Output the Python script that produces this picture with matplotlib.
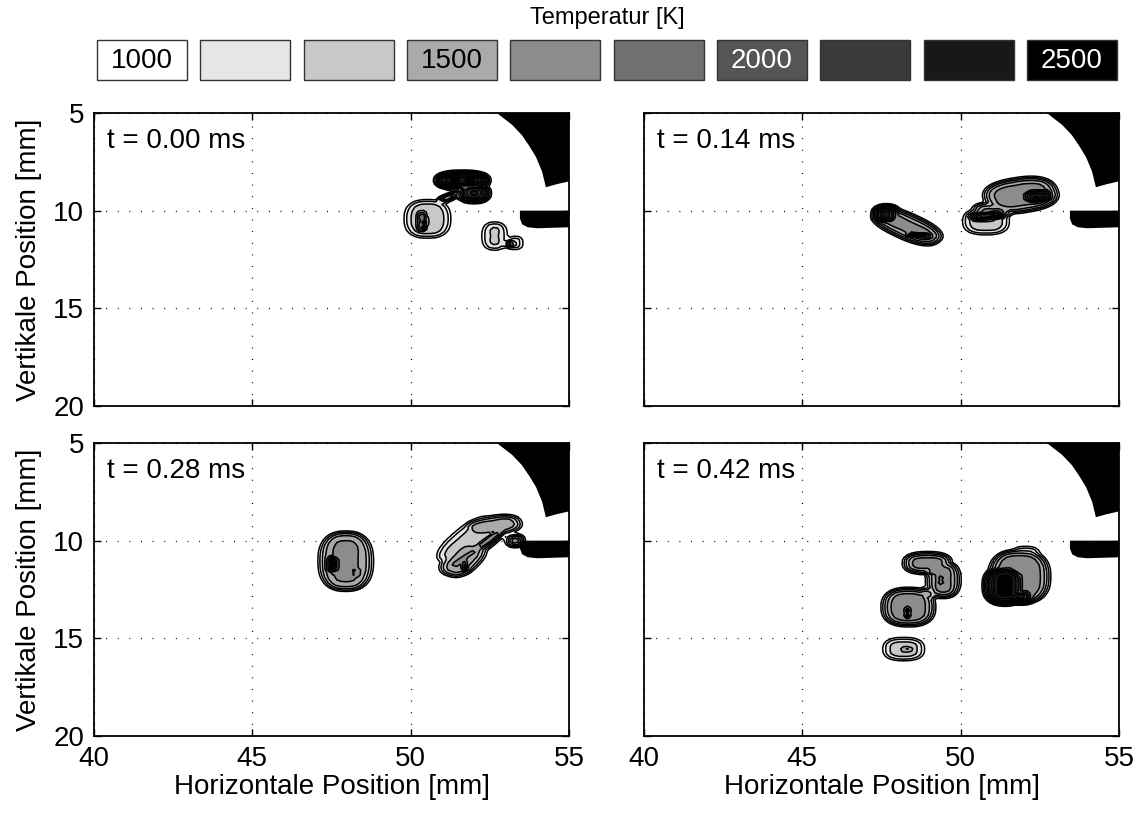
import numpy as np
import matplotlib
matplotlib.use("Agg")
import matplotlib.pyplot as plt
from matplotlib.patches import Rectangle

plt.rcParams['font.family'] = ['Liberation Sans', 'DejaVu Sans']

# Temperature levels (K) and their grey fill colours
LEVELS = [1000, 1167, 1333, 1500, 1667, 1833, 2000, 2167, 2333, 2500]
GRAYS = ['#ffffff', '#e6e6e6', '#c8c8c8', '#aaaaaa', '#8c8c8c',
         '#707070', '#555555', '#3a3a3a', '#181818', '#000000']
LEGEND_LABELS = ['1000', '', '', '1500', '', '', '2000', '', '', '2500']
LABEL_COLORS = ['k', 'k', 'k', 'k', 'k', 'k', 'w', 'w', 'w', 'w']

TIMES = ['t = 0.00 ms', 't = 0.14 ms', 't = 0.28 ms', 't = 0.42 ms']

# Hot kernels: (x [mm], y [mm], half-length, half-width, angle [deg], peak T [K])
KERNELS_000 = [
    (51.63, 8.45, 0.80, 0.42, 0, 2600),
    (52.00, 9.10, 0.45, 0.45, 0, 2500),
    (51.15, 9.35, 0.32, 0.15, -35, 2100),
    (50.53, 10.42, 0.80, 1.05, 0, 1450),
    (50.35, 10.55, 0.28, 0.62, 0, 2100),
    (50.42, 10.72, 0.12, 0.35, 0, 2600),
    (50.72, 10.92, 0.18, 0.30, 0, 1750),
    (52.65, 11.30, 0.48, 0.80, 0, 1400),
    (53.30, 11.65, 0.32, 0.42, 0, 1400),
    (52.65, 10.95, 0.10, 0.24, 0, 1750),
    (53.15, 11.70, 0.14, 0.16, 0, 2400),
]
KERNELS_014 = [
    (48.30, 10.80, 1.30, 0.62, 38, 1750),
    (47.65, 10.20, 0.38, 0.45, 0, 2600),
    (48.70, 11.25, 0.48, 0.20, 10, 2600),
    (50.80, 10.55, 0.80, 0.75, 0, 1450),
    (51.90, 9.20, 1.20, 0.90, -15, 1750),
    (51.00, 10.00, 0.65, 0.45, 0, 1750),
    (52.40, 9.25, 0.50, 0.40, -10, 2600),
    (50.85, 10.25, 0.60, 0.28, -10, 2500),
]
KERNELS_028 = [
    (52.60, 9.25, 0.95, 0.55, -15, 1650),
    (51.65, 10.95, 1.00, 0.60, -60, 1650),
    (51.85, 10.00, 1.50, 0.70, -55, 1400),
    (52.05, 10.45, 1.45, 0.30, -50, 1800),
    (51.72, 11.30, 0.12, 0.30, 0, 2600),
    (53.30, 10.00, 0.28, 0.32, 0, 2000),
    (47.95, 11.05, 0.88, 1.55, 0, 1700),
    (47.55, 11.20, 0.25, 0.50, 0, 2600),
    (48.25, 11.60, 0.15, 0.32, 0, 2600),
]
KERNELS_042 = [
    (48.95, 11.15, 0.78, 0.58, 0, 1800),
    (49.45, 12.00, 0.55, 0.95, 0, 1800),
    (48.64, 11.20, 0.13, 0.20, 0, 2600),
    (49.06, 11.58, 0.12, 0.18, 0, 2600),
    (49.38, 12.03, 0.12, 0.26, 0, 2600),
    (48.35, 13.40, 0.85, 1.00, 0, 1800),
    (48.90, 12.75, 0.35, 0.35, 0, 1800),
    (48.34, 13.70, 0.15, 0.38, 0, 2600),
    (48.20, 15.55, 0.72, 0.66, 0, 1450),
    (48.30, 15.55, 0.36, 0.32, 0, 1800),
    (51.85, 11.85, 0.98, 1.40, 0, 1800),
    (52.05, 10.75, 0.52, 0.52, 0, 1450),
    (51.40, 12.30, 0.62, 0.95, 0, 2600),
    (51.90, 12.85, 0.40, 0.35, 0, 2600),
]
PANELS = [KERNELS_000, KERNELS_014, KERNELS_028, KERNELS_042]

# Solid walls (black) in the upper right of the field of view
WALL_X = [52.72, 53.20, 53.51, 53.75, 53.96, 54.15, 54.27, 54.60, 55.00, 55.00]
WALL_Y = [5.00, 5.60, 6.13, 6.70, 7.26, 8.00, 8.80, 8.65, 8.50, 5.00]
BAR_X = [53.45, 55.00, 55.00, 54.00, 53.70, 53.52, 53.45]
BAR_Y = [10.00, 10.00, 10.85, 10.90, 10.85, 10.70, 10.40]

T_AMBIENT = 300.0
EDGE = 0.13      # width of the flame-front gradient [mm]
SHAPE_N = 2.5    # super-ellipse exponent of the kernels


def temperature_field(kernels, X, Y):
    T = np.full_like(X, T_AMBIENT)
    n = SHAPE_N
    for cx, cy, rl, rw, ang, peak in kernels:
        a = np.deg2rad(ang)
        dx, dy = X - cx, Y - cy
        u = np.abs(dx * np.cos(a) + dy * np.sin(a)) / rl + 1e-9
        v = np.abs(-dx * np.sin(a) + dy * np.cos(a)) / rw + 1e-9
        rho = (u ** n + v ** n) ** (1 / n)
        grad = np.sqrt((u ** (n - 1) / rl) ** 2 + (v ** (n - 1) / rw) ** 2) / rho ** (n - 1)
        d = (rho - 1) / grad
        g = 1.0 / (1.0 + np.exp(np.clip(d / EDGE, -50, 50)))
        T = np.maximum(T, T_AMBIENT + (peak - T_AMBIENT) * g)
    return T


xg = np.arange(40.0, 55.001, 0.13)
yg = np.arange(5.0, 20.001, 0.13)
X, Y = np.meshgrid(xg, yg)

W, H = 1137, 814
fig = plt.figure(figsize=(W / 100, H / 100), dpi=100)

cols = [94, 644]
rows = [113, 443]
aw, ah = 475, 293

FS = 20
for i, kernels in enumerate(PANELS):
    r, c = divmod(i, 2)
    ax = fig.add_axes([cols[c] / W, 1 - (rows[r] + ah) / H, aw / W, ah / H])
    T = temperature_field(kernels, X, Y)
    ax.contourf(X, Y, T, levels=LEVELS + [1e5], colors=GRAYS, zorder=2)
    ax.contour(X, Y, T, levels=LEVELS, colors='k', linewidths=1.1, zorder=3)
    ax.fill(WALL_X, WALL_Y, color='k', lw=0, zorder=4)
    ax.fill(BAR_X, BAR_Y, color='k', lw=0, zorder=4)
    ax.set_xlim(40, 55)
    ax.set_ylim(20, 5)
    ax.set_xticks([40, 45, 50, 55])
    ax.set_yticks([5, 10, 15, 20])
    ax.set_axisbelow(True)
    ax.grid(True, color='k', linestyle=(0, (0.8, 8.5)), linewidth=0.9)
    ax.tick_params(direction='in', top=True, right=True, length=5, width=1,
                   labelsize=FS, pad=7)
    for s in ax.spines.values():
        s.set_linewidth(1.3)
        s.set_zorder(5)
    if c == 0:
        ax.set_ylabel('Vertikale Position [mm]', fontsize=FS, labelpad=8)
    else:
        ax.set_yticklabels([])
    if r == 1:
        ax.set_xlabel('Horizontale Position [mm]', fontsize=FS, labelpad=2)
    else:
        ax.set_xticklabels([])
    ax.text(0.028, 0.905, TIMES[i], transform=ax.transAxes, fontsize=FS,
            ha='left', va='center', zorder=6)

# Colour key along the top
lax = fig.add_axes([0, 0, 1, 1])
lax.set_xlim(0, W)
lax.set_ylim(H, 0)
lax.axis('off')
bx0, bx1, bw = 97, 1117, 90
pitch = (bx1 - bx0 - bw) / (len(GRAYS) - 1)
for k, (g, lab, tc) in enumerate(zip(GRAYS, LEGEND_LABELS, LABEL_COLORS)):
    x0 = bx0 + k * pitch
    lax.add_patch(Rectangle((x0, 40), bw, 40, facecolor=g, edgecolor='#333333', lw=1.0))
    if lab:
        lax.text(x0 + bw / 2, 61, lab, ha='center', va='center', fontsize=20, color=tc)
lax.text((bx0 + bx1) / 2, 18, 'Temperatur [K]', ha='center', va='center', fontsize=17)

fig.savefig('out.png', dpi=100)
